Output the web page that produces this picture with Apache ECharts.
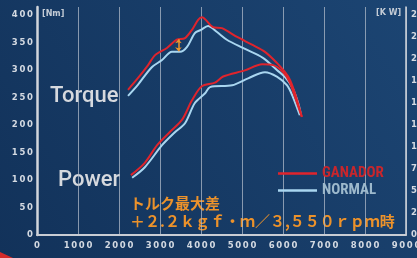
<!DOCTYPE html>
<html><head><meta charset="utf-8">
<script src="https://cdn.jsdelivr.net/npm/echarts@6/dist/echarts.min.js"></script>
<style>html,body{margin:0;padding:0;}#c{width:417px;height:258px;}</style>
</head><body><div id="c"></div>
<script>
// ---- data ----
const torqueRpmG = [2220,2460,2710,2880,3170,3410,3610,3780,3930,4020,4290,4510,4880,5270,5560,5850,6050,6170,6290,6460];
const torqueG    = [264, 285, 309, 327, 340, 355, 358, 373, 391, 396, 378, 376, 360, 345, 333, 313, 296, 282, 258, 215];
const torqueRpmN = [2220,2460,2800,3050,3290,3490,3660,3850,4000,4170,4390,4630,5020,5510,5850,6050,6220,6370,6440];
const torqueN    = [253, 273, 305, 318, 333, 333, 342, 367, 373, 380, 369, 355, 340, 322, 300, 287, 269, 240, 218];
const powerRpmG  = [2290,2630,2930,3240,3540,3780,4020,4340,4540,5070,5490,5760,6000,6170,6290,6460];
const powerG     = [68,  82,  102, 117, 131, 153, 169, 173, 180, 187, 194, 193, 185, 173, 157, 134];
const powerRpmN  = [2320,2630,3050,3370,3610,3850,4100,4220,4760,5150,5560,5850,6100,6240,6410];
const powerN     = [65,  77,  102, 117, 127, 150, 161, 168, 170, 178, 185, 180, 170, 157, 136];
const diffRpm = 3450, diffTop = 356, diffBottom = 334;
const seriesNames = ['GANADOR','NORMAL'];
const xTicks = {min:0, max:9000, interval:1000};
const nmTicks = {min:0, max:414.5, interval:50};
const kwTicks = {min:0, max:259, interval:25};
const labelTorque = 'Torque', labelPower = 'Power';
const noteLine1 = 'トルク最大差';
const noteLine2 = '＋２.２ｋｇｆ・ｍ／３,５５０ｒｐｍ時';

const zip = (xs, ys) => xs.map((x,i)=>[x, ys[i]]);
const spaced = s => String(s).split('').join('\u2009');
const RED = '#e0242c', BLUE = '#a9d6f0';
const axisLabelStyle = {color:'#d4dae2', fontSize:8.5, fontWeight:'bold', fontFamily:'DejaVu Sans'};

const chart = echarts.init(document.getElementById('c'), null, {renderer:'canvas'});
chart.setOption({
  animation:false,
  backgroundColor: new echarts.graphic.LinearGradient(1,0,0,1,[
    {offset:0, color:'#1c4573'},{offset:1, color:'#12325a'}]),
  grid:{left:37, right:11, top:7, bottom:23, containLabel:false, outerBoundsMode:'none'},
  legend:{
    orient:'vertical', left:273, top:161, itemWidth:39, itemHeight:2.5, itemGap:2,
    icon:'rect',
    data:[
      {name:seriesNames[0], textStyle:{color:'#c8262c'}},
      {name:seriesNames[1], textStyle:{color:'#9db9cc'}}
    ],
    textStyle:{fontSize:15, fontWeight:'bold', fontFamily:'"Liberation Sans Narrow", "Roboto Condensed", "Noto Sans", sans-serif'}
  },
  xAxis:{type:'value', min:xTicks.min, max:xTicks.max, interval:xTicks.interval,
    axisLine:{show:true, lineStyle:{color:'#c9cdd4', width:2}},
    axisTick:{show:false},
    splitLine:{show:true, lineStyle:{color:'rgba(175,185,200,0.75)', width:1}},
    axisLabel:Object.assign({margin:6, formatter:v=>spaced(v)}, axisLabelStyle)
  },
  yAxis:[
    {type:'value', min:nmTicks.min, max:nmTicks.max, interval:nmTicks.interval,
      axisLine:{show:true, lineStyle:{color:'#d2d6dc', width:2.5}},
      axisTick:{show:false}, splitLine:{show:false},
      axisLabel:Object.assign({margin:4, formatter:v=>(v%50===0 && v<=400)?spaced(v):''}, axisLabelStyle)
    },
    {type:'value', position:'right', min:kwTicks.min, max:kwTicks.max, interval:kwTicks.interval,
      axisLine:{show:true, lineStyle:{color:'#d2d6dc', width:1.5}},
      axisTick:{show:false}, splitLine:{show:false},
      axisLabel:Object.assign({margin:5, formatter:v=>(v%25===0 && v<=250)?spaced(v):''}, axisLabelStyle)
    }
  ],
  series:[
    {name:seriesNames[1], type:'line', yAxisIndex:0, data:zip(torqueRpmN, torqueN), smooth:0.3,
      showSymbol:false, lineStyle:{color:BLUE, width:2}, itemStyle:{color:BLUE}},
    {name:seriesNames[1], type:'line', yAxisIndex:1, data:zip(powerRpmN, powerN), smooth:0.3,
      showSymbol:false, lineStyle:{color:BLUE, width:2}, itemStyle:{color:BLUE}},
    {name:seriesNames[0], type:'line', yAxisIndex:0, data:zip(torqueRpmG, torqueG), smooth:0.3,
      showSymbol:false, lineStyle:{color:RED, width:2}, itemStyle:{color:RED},
      markLine:{silent:true, symbol:['arrow','arrow'], symbolSize:[5,4], label:{show:false},
        lineStyle:{color:'#f0942a', width:1.5, type:'solid'},
        data:[[{coord:[diffRpm, diffTop]},{coord:[diffRpm, diffBottom]}]]}},
    {name:seriesNames[0], type:'line', yAxisIndex:1, data:zip(powerRpmG, powerG), smooth:0.3,
      showSymbol:false, lineStyle:{color:RED, width:2}, itemStyle:{color:RED}}
  ],
  graphic:[
    {type:'polygon', shape:{points:[[0,252],[13,258],[0,258]]}, style:{fill:'#d42a2a'}, silent:true},
    {type:'text', left:42, top:10, style:{text:'[Nm]', fill:'#c4ccd6', font:'bold 8px DejaVu Sans'}},
    {type:'text', left:376, top:9, style:{text:'[K W]', fill:'#c4ccd6', font:'bold 8px DejaVu Sans'}},
    {type:'text', left:50, top:85, style:{text:labelTorque, fill:'#d6d9de', font:'500 22px Roboto'}},
    {type:'text', left:58, top:169, style:{text:labelPower, fill:'#d6d9de', font:'500 22px Roboto'}},
    {type:'text', left:130, top:196, style:{text:noteLine1, fill:'#ec922b', font:'bold 15px "Noto Sans CJK JP"'}},
    {type:'text', left:130, top:214, style:{text:noteLine2, fill:'#ec922b', font:'bold 15px "Noto Sans CJK JP"'}}
  ]
});
</script></body></html>
